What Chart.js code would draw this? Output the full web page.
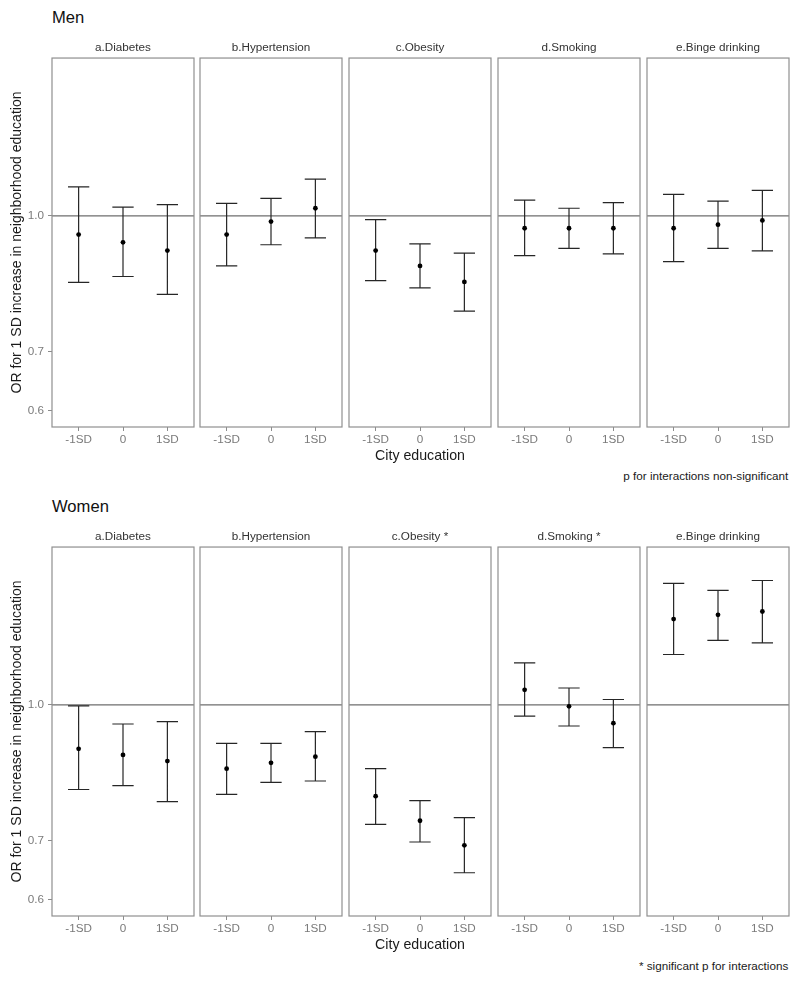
<!DOCTYPE html>
<html>
<head>
<meta charset="utf-8">
<title>OR for 1 SD increase in neighborhood education by city education</title>
<script src="https://cdn.jsdelivr.net/npm/chart.js@4.4.0/dist/chart.umd.min.js"></script>
<style>
    body { margin: 0; background: #fff; font-family: "Liberation Sans", Arial, sans-serif; }
    #page { position: relative; width: 800px; height: 984px; overflow: hidden; }
    #page canvas { position: absolute; }
    .label { position: absolute; line-height: 1; white-space: nowrap; }
    .gender { font-size: 16.6px; color: #111; left: 52px; }
    .note { font-size: 11.7px; color: #1a1a1a; right: 11.7px; }
</style>
</head>
<body>
<div id="page">
    <div class="label gender" style="top:10px">Men</div>
    <div class="label note" style="top:470px">p for interactions non-significant</div>
    <div class="label gender" style="top:499px">Women</div>
    <div class="label note" style="top:960px">* significant p for interactions</div>
</div>
<script>
// Values: odds ratio and 95% CI per city education level
const cityLevels = ['-1SD', '0', '1SD'];
const menOutcomes = ['a.Diabetes', 'b.Hypertension', 'c.Obesity', 'd.Smoking', 'e.Binge drinking'];
const womenOutcomes = ['a.Diabetes', 'b.Hypertension', 'c.Obesity *', 'd.Smoking *', 'e.Binge drinking'];
const yTickValues = [0.6, 0.7, 1.0];
const refValue = 1.0;

const menOR = [
    [0.952, 0.933, 0.913],
    [0.952, 0.985, 1.020],
    [0.913, 0.877, 0.841],
    [0.968, 0.968, 0.968],
    [0.968, 0.977, 0.988]
];
const menLow = [
    [0.840, 0.853, 0.814],
    [0.877, 0.927, 0.944],
    [0.844, 0.828, 0.779],
    [0.901, 0.918, 0.905],
    [0.887, 0.918, 0.912]
];
const menHigh = [
    [1.079, 1.023, 1.030],
    [1.033, 1.047, 1.101],
    [0.990, 0.929, 0.907],
    [1.042, 1.020, 1.035],
    [1.058, 1.039, 1.069]
];

const womenOR = [
    [0.891, 0.877, 0.863],
    [0.846, 0.859, 0.873],
    [0.787, 0.738, 0.692],
    [1.040, 0.996, 0.953],
    [1.252, 1.266, 1.277]
];
const womenLow = [
    [0.801, 0.809, 0.776],
    [0.791, 0.816, 0.819],
    [0.731, 0.698, 0.644],
    [0.971, 0.946, 0.894],
    [1.141, 1.184, 1.176]
];
const womenHigh = [
    [0.997, 0.951, 0.957],
    [0.904, 0.904, 0.932],
    [0.846, 0.778, 0.744],
    [1.116, 1.045, 1.014],
    [1.375, 1.350, 1.385]
];

// Layout of the facets (px)
const panelLefts = [52, 200, 349, 498, 647];
const panelWidth = 142;
const panelHeight = 369;
const stripHeight = 24;
const xAxisHeight = 39;
const yAxisWidth = 52;
const sidePad = 6;
const yMin = 0.575;
const yMax = 1.512;
const capHalf = 0.24;

const fontFamily = "'Liberation Sans', Arial, sans-serif";
const tickColor = '#8c8c8c';
const tickTextColor = '#7a7a7a';
const frameColor = '#8f8f8f';

Chart.defaults.font.family = fontFamily;

// Draw the grey frame round each facet
const panelBorder = {
    id: 'panelBorder',
    afterDraw(chart) {
        const { ctx, chartArea: a } = chart;
        ctx.save();
        ctx.strokeStyle = frameColor;
        ctx.lineWidth = 1.2;
        ctx.strokeRect(a.left, a.top, a.right - a.left, a.bottom - a.top);
        ctx.restore();
    }
};

// Error bar segments: top cap, stem, bottom cap (null breaks the line)
function whiskerPoints(low, high) {
    const pts = [];
    for (let i = 0; i < low.length; i++) {
        const x = i + 1;
        pts.push({ x: x - capHalf, y: high[i] }, { x: x + capHalf, y: high[i] }, { x: x, y: null });
        pts.push({ x: x, y: high[i] }, { x: x, y: low[i] }, { x: x, y: null });
        pts.push({ x: x - capHalf, y: low[i] }, { x: x + capHalf, y: low[i] }, { x: x, y: null });
    }
    return pts;
}

function createFacet(panelTop, col, title, or, low, high) {
    const first = col === 0;
    const canvas = document.createElement('canvas');
    const left = first ? 0 : panelLefts[col] - sidePad;
    canvas.width = first ? panelLefts[0] + panelWidth + sidePad : panelWidth + 2 * sidePad;
    canvas.height = stripHeight + panelHeight + xAxisHeight;
    canvas.style.left = left + 'px';
    canvas.style.top = (panelTop - stripHeight) + 'px';
    document.getElementById('page').appendChild(canvas);

    new Chart(canvas.getContext('2d'), {
        type: 'scatter',
        data: {
            datasets: [
                {
                    data: or.map((v, i) => ({ x: i + 1, y: v })),
                    pointRadius: 2.4,
                    pointBackgroundColor: '#000',
                    pointBorderWidth: 0,
                    order: 0
                },
                {
                    data: whiskerPoints(low, high),
                    showLine: true,
                    spanGaps: false,
                    borderColor: '#262626',
                    borderWidth: 1.2,
                    pointRadius: 0,
                    order: 1
                },
                {
                    data: [{ x: 0.4, y: refValue }, { x: 3.6, y: refValue }],
                    showLine: true,
                    borderColor: '#6e6e6e',
                    borderWidth: 1.3,
                    pointRadius: 0,
                    order: 2
                }
            ]
        },
        options: {
            responsive: false,
            animation: false,
            events: [],
            layout: { padding: { left: first ? 0 : sidePad, right: sidePad, top: 0, bottom: 0 } },
            plugins: {
                legend: { display: false },
                tooltip: { enabled: false },
                title: {
                    display: true,
                    text: title,
                    fullSize: false,
                    color: '#333',
                    font: { size: 11.7, weight: 'normal' },
                    padding: { top: 6.5, bottom: 3.5 }
                }
            },
            scales: {
                x: {
                    type: 'linear',
                    min: 0.4,
                    max: 3.6,
                    afterBuildTicks: (axis) => { axis.ticks = cityLevels.map((c, i) => ({ value: i + 1 })); },
                    afterFit: (axis) => { axis.height = xAxisHeight; },
                    grid: { drawOnChartArea: false, drawTicks: true, tickLength: 4, color: tickColor },
                    border: { display: false },
                    ticks: {
                        callback: (v) => cityLevels[Math.round(v) - 1],
                        color: tickTextColor,
                        font: { size: 11.7 },
                        padding: 2,
                        maxRotation: 0,
                        autoSkip: false
                    },
                    title: {
                        display: col === 2,
                        text: 'City education',
                        color: '#1a1a1a',
                        font: { size: 14.2 },
                        padding: { top: 0, bottom: 1 }
                    }
                },
                y: {
                    type: 'logarithmic',
                    display: first,
                    min: yMin,
                    max: yMax,
                    afterBuildTicks: (axis) => { axis.ticks = yTickValues.map(v => ({ value: v })); },
                    afterFit: (axis) => { axis.width = first ? yAxisWidth : 0; },
                    grid: { drawOnChartArea: false, drawTicks: true, tickLength: 4, color: tickColor },
                    border: { display: false },
                    ticks: {
                        callback: (v) => Number(v).toFixed(1),
                        color: tickTextColor,
                        font: { size: 11.7 },
                        padding: 4
                    },
                    title: {
                        display: true,
                        text: 'OR for 1 SD increase in neighborhood education',
                        color: '#1a1a1a',
                        font: { size: 14 },
                        padding: { top: 9, bottom: 0 }
                    }
                }
            }
        },
        plugins: [panelBorder]
    });
}

function createGender(panelTop, outcomes, or, low, high) {
    outcomes.forEach((name, col) => {
        createFacet(panelTop, col, name, or[col], low[col], high[col]);
    });
}

document.addEventListener('DOMContentLoaded', function() {
    createGender(58, menOutcomes, menOR, menLow, menHigh);
    createGender(547, womenOutcomes, womenOR, womenLow, womenHigh);
});
</script>
</body>
</html>
